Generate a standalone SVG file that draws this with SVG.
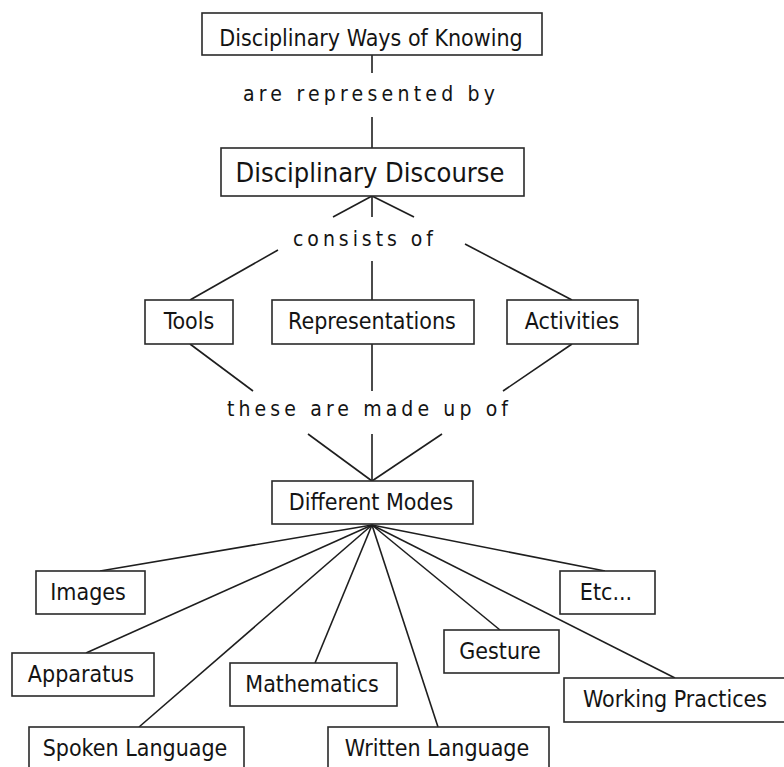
<svg xmlns="http://www.w3.org/2000/svg" width="784" height="767" viewBox="0 0 784 767">
<style>
.box{fill:#fff;stroke:#2a2a2a;stroke-width:1.6}
.t{font-family:"DejaVu Sans Condensed","DejaVu Sans",sans-serif;font-stretch:condensed;font-size:23px;fill:#141414;text-anchor:middle}
.big{font-size:27px}
.lbl{font-family:"DejaVu Sans Condensed","DejaVu Sans",sans-serif;font-stretch:condensed;font-size:21px;fill:#141414}
.c line{stroke:#1e1e1e;stroke-width:1.6;fill:none}
</style>
<rect width="784" height="767" fill="#fff"/>
<g id="connectors" class="c">
<line x1="372" y1="55" x2="372" y2="73"/>
<line x1="372" y1="117" x2="372" y2="148"/>
<line x1="372" y1="196" x2="333" y2="217"/>
<line x1="372" y1="196" x2="372" y2="217"/>
<line x1="372" y1="196" x2="414" y2="217"/>
<line x1="278" y1="250" x2="190" y2="300"/>
<line x1="372" y1="261" x2="372" y2="300"/>
<line x1="465" y1="244" x2="572" y2="300"/>
<line x1="190" y1="344" x2="253" y2="391"/>
<line x1="372" y1="344" x2="372" y2="391"/>
<line x1="572" y1="344" x2="503" y2="391"/>
<line x1="308" y1="434" x2="372" y2="481"/>
<line x1="372" y1="434" x2="372" y2="481"/>
<line x1="442" y1="434" x2="372" y2="481"/>
<line x1="372" y1="525" x2="100" y2="571"/>
<line x1="372" y1="525" x2="86" y2="653"/>
<line x1="372" y1="525" x2="139" y2="727"/>
<line x1="372" y1="525" x2="315" y2="663"/>
<line x1="372" y1="525" x2="438" y2="727"/>
<line x1="372" y1="525" x2="500" y2="630"/>
<line x1="372" y1="525" x2="675" y2="678"/>
<line x1="372" y1="525" x2="605" y2="571"/>
</g>
<g id="label-represented"><text class="lbl" x="243" y="101" textLength="252" lengthAdjust="spacing">are represented by</text></g>
<g id="label-consists"><text class="lbl" x="293" y="246" textLength="140" lengthAdjust="spacing">consists of</text></g>
<g id="label-madeup"><text class="lbl" x="227" y="416" textLength="281" lengthAdjust="spacing">these are made up of</text></g>
<g id="n-ways"><rect class="box" x="202" y="13" width="340" height="42"/><text class="t" x="371" y="46">Disciplinary Ways of Knowing</text></g>
<g id="n-discourse"><rect class="box" x="221" y="148" width="303" height="48"/><text class="t big" x="370" y="182">Disciplinary Discourse</text></g>
<g id="n-tools"><rect class="box" x="145" y="300" width="88" height="44"/><text class="t" x="189" y="329">Tools</text></g>
<g id="n-representations"><rect class="box" x="272" y="300" width="202" height="44"/><text class="t" x="372" y="329">Representations</text></g>
<g id="n-activities"><rect class="box" x="507" y="300" width="131" height="44"/><text class="t" x="572" y="329">Activities</text></g>
<g id="n-modes"><rect class="box" x="272" y="481" width="201" height="43"/><text class="t" x="371" y="510">Different Modes</text></g>
<g id="n-images"><rect class="box" x="36" y="571" width="109" height="43"/><text class="t" x="88" y="600">Images</text></g>
<g id="n-etc"><rect class="box" x="560" y="571" width="95" height="43"/><text class="t" x="606" y="600">Etc...</text></g>
<g id="n-gesture"><rect class="box" x="444" y="630" width="115" height="43"/><text class="t" x="500" y="659">Gesture</text></g>
<g id="n-apparatus"><rect class="box" x="12" y="653" width="142" height="43"/><text class="t" x="81" y="682">Apparatus</text></g>
<g id="n-mathematics"><rect class="box" x="230" y="663" width="167" height="43"/><text class="t" x="312" y="692">Mathematics</text></g>
<g id="n-working"><rect class="box" x="564" y="678" width="225" height="44"/><text class="t" x="675" y="707">Working Practices</text></g>
<g id="n-spoken"><rect class="box" x="29" y="727" width="215" height="50"/><text class="t" x="135" y="756">Spoken Language</text></g>
<g id="n-written"><rect class="box" x="328" y="727" width="221" height="50"/><text class="t" x="437" y="756">Written Language</text></g>
</svg>
